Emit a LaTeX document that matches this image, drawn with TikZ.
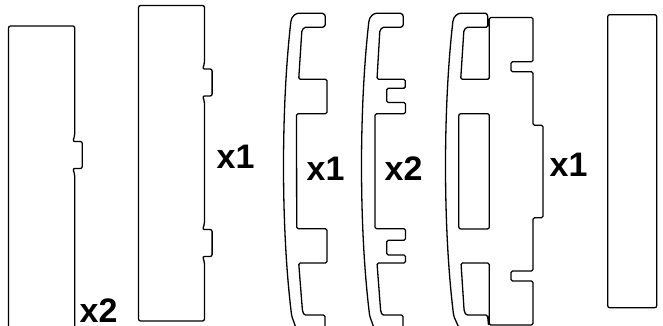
\documentclass[tikz,border=0pt]{standalone}
\usepackage{fontspec}
\setmainfont{Liberation Sans}
\usepackage{tikz}
\newcommand{\tabbump}{-- ++(-2,5.5) -- ++(9.6,0) -- ++(0,27) -- ++(-9.6,0) -- ++(2,5.5)}
\begin{document}
\begin{tikzpicture}[x=1pt,y=-1pt,line width=1.3pt,line join=round]
\tikzstyle{outline}=[draw=black,rounded corners=2pt]
\tikzstyle{count}=[inner sep=0pt,anchor=base west,font=\bfseries\fontsize{34}{34}\selectfont]
\useasboundingbox (0,0) rectangle (663,326);
% flat panels
\draw[outline] (8.5,328) -- (8.5,26) -- (74.7,26) -- (74.7,136) \tabbump -- (74.7,328);
\draw[outline] (204.5,5.5) -- (204.5,63.5) \tabbump -- (204.5,224) \tabbump -- (204.5,321) -- (138.5,321) -- (138.5,5.5) -- cycle;
\draw[outline] (607.7,14.7) rectangle (656.7,307.7);
% long hook, x1
\draw[rounded corners=1.5pt] (296,328) -- (291.7,316) .. controls (281,230) and (281,110) .. (290.7,23)
  .. controls (291.5,16) and (296,13.3) .. (300,13.3) -- (321,13.3) .. controls (324,13.3) and (325.3,15.5) .. (325.3,18) -- (325.3,23)
  .. controls (325.3,25.5) and (324,27.3) .. (321,27.3) -- (307,27.3) .. controls (304,27.3) and (302,29.5) .. (301.7,33)
  -- (298.7,79.3) -- (327,79.3) -- (327,113.7) -- (296.5,113.7) -- (296.7,228.7) -- (327,228.7) -- (327,263) -- (298.7,263)
  -- (302.3,309) .. controls (302.8,313) and (304,315) .. (307,315) -- (325,315) -- (325,328);
% toothed hook, x2
\draw[rounded corners=1.5pt] (374,328) -- (369.7,316) .. controls (359,230) and (359,110) .. (368.7,23)
  .. controls (369.5,16) and (374,13.3) .. (378,13.3) -- (399,13.3) .. controls (402,13.3) and (403.3,15.5) .. (403.3,18) -- (403.3,23)
  .. controls (403.3,25.5) and (402,27.3) .. (399,27.3) -- (385,27.3) .. controls (382,27.3) and (380,29.5) .. (379.7,33)
  -- (377,79.3) -- (405.3,79.3) -- (405.3,88.3) -- (386.7,88.3) -- (386.7,102.5) -- (405.5,102.5) -- (405.5,113.7)
  -- (375,113.7) -- (375,228.7) -- (405.5,228.7) -- (405.5,240.3) -- (386.7,240.3) -- (386.7,255) -- (405.5,255) -- (405.5,263)
  -- (377,263) -- (380.5,309) .. controls (381,313) and (382,315) .. (385,315) -- (403,315) -- (403,328);
% assembled stack, x1
\draw[rounded corners=1.5pt] (459,328) -- (453.7,316) .. controls (443,230) and (443,110) .. (452.7,23)
  .. controls (453.5,16) and (458,13.3) .. (462,13.3) -- (484,13.3) .. controls (487,13.3) and (487.7,15.5) .. (487.7,18) -- (487.7,27.3)
  -- (469,27.3) .. controls (466,27.3) and (464,29.5) .. (463.7,33) -- (460.7,79.3) -- (489.3,79.3) -- (489.3,17.5)
  -- (533,17.5) -- (533,61.7) -- (511,61.7) -- (511,71.7) -- (533,71.7) -- (533,125.3) -- (543,125.3) -- (543,217.7)
  -- (533,217.7) -- (533,271) -- (511,271) -- (511,281) -- (533,281) -- (533,325) -- (489.3,325) -- (489.3,263)
  -- (461,263) -- (464,309) .. controls (464.5,313) and (466,315) .. (469,315) -- (487.5,315) -- (488.5,325);
\draw[outline] (458.8,113.7) -- (489.3,113.7) -- (489.3,229) -- (458.8,229) -- cycle;
% counts
\node[count] (panela) at (79,322) {x2};
\node[count] (panelb) at (216,168) {x1};
\node[count] (hooka) at (306,180) {x1};
\node[count] (hookb) at (384,180) {x2};
\node[count] (stack) at (549,176) {x1};
\end{tikzpicture}
\end{document}
